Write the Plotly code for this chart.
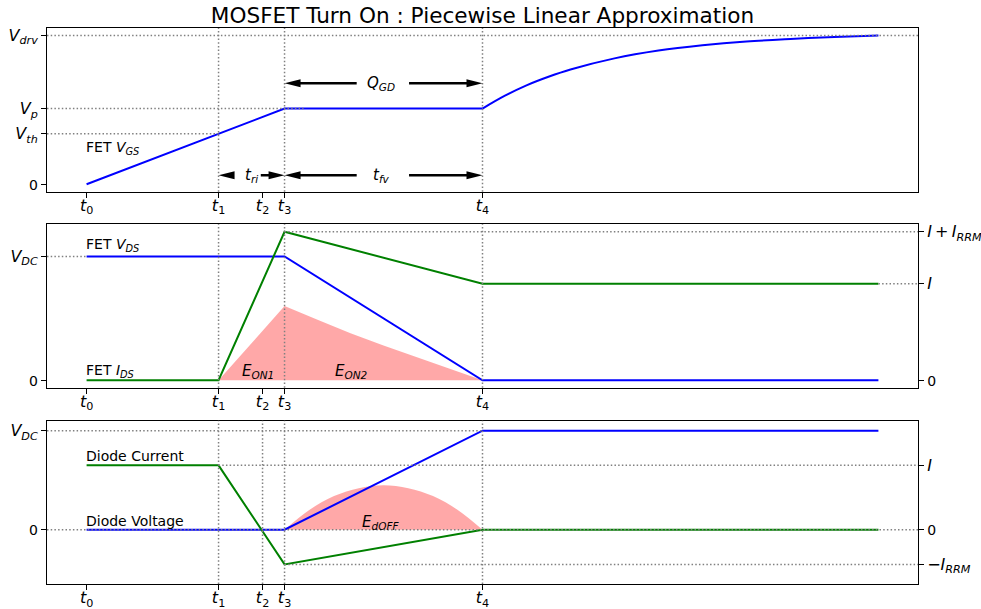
import plotly.graph_objects as go

# ---- time markers -------------------------------------------------------
t_marks = [0, 3, 4, 4.5, 9]
t_labels = ["<i>t</i><sub>0</sub>", "<i>t</i><sub>1</sub>", "<i>t</i><sub>2</sub>",
            "<i>t</i><sub>3</sub>", "<i>t</i><sub>4</sub>"]
T0, T1, T2, T3, T4, T_END = 0, 3, 4, 4.5, 9, 18

# ---- gate drive levels --------------------------------------------------
V_TH, V_P, V_DRV = 2.0, 3.0, 5.9
vgs_t = [0, 3, 4.5, 9]
vgs_v = [0, 2.0, 3.0, 3.0]
# charging toward the drive voltage after the Miller plateau
vgs_tail_t = [9.0, 9.5, 10.0, 10.5, 11.0, 12.0, 13.0, 14.0, 15.0, 16.0, 17.0, 18.0]
vgs_tail_v = [3.0, 3.50, 3.92, 4.26, 4.55, 4.99, 5.30, 5.51, 5.66, 5.76, 5.84, 5.9]

# ---- FET drain-source ---------------------------------------------------
V_DC, I_LOAD, I_PEAK = 5.0, 3.9, 6.0
vds_t = [0, 4.5, 9, 18]
vds_v = [5.0, 5.0, 0.0, 0.0]
ids_t = [0, 3, 4.5, 9, 18]
ids_v = [0.0, 0.0, 6.0, 3.9, 3.9]
eon_t = [3, 4.5, 5.25, 6.0, 6.75, 7.5, 8.25, 9.0]
eon_p = [0.0, 3.0, 2.44, 1.9, 1.4, 0.93, 0.46, 0.0]

# ---- diode --------------------------------------------------------------
VD_DC, ID_LOAD, ID_RRM = 1.0, 0.65, 0.35
dv_t = [0, 4.5, 9, 18]
dv_v = [0.0, 0.0, 1.0, 1.0]
di_t = [0, 3, 4.5, 9, 18]
di_v = [0.65, 0.65, -0.35, 0.0, 0.0]
edoff_t = [4.5, 5.0625, 5.625, 6.1875, 6.75, 7.3125, 7.875, 8.4375, 9.0]
edoff_p = [0.0, 0.2, 0.34, 0.42, 0.45, 0.42, 0.34, 0.2, 0.0]

BLUE = "#0000ff"
GREEN = "#008000"
PINK = "rgba(255,0,0,0.34)"
GRID = "#808080"
FONT = "DejaVu Sans"
X_RANGE = [-0.9, 18.9]
ZERO = '<span style="font-size:14px">0</span>'

fig = go.Figure()

# top panel: gate-source voltage
fig.add_trace(go.Scatter(x=vgs_t, y=vgs_v, mode="lines", line=dict(color=BLUE, width=2),
                         xaxis="x", yaxis="y", hoverinfo="skip"))
fig.add_trace(go.Scatter(x=vgs_tail_t, y=vgs_tail_v, mode="lines",
                         line=dict(color=BLUE, width=2, shape="spline"),
                         xaxis="x", yaxis="y", hoverinfo="skip"))

# middle panel: turn-on loss, VDS, IDS
fig.add_trace(go.Scatter(x=eon_t, y=eon_p, mode="lines", fill="tozeroy", fillcolor=PINK,
                         line=dict(width=0, color=PINK), xaxis="x2", yaxis="y2", hoverinfo="skip"))
fig.add_trace(go.Scatter(x=vds_t, y=vds_v, mode="lines", line=dict(color=BLUE, width=2),
                         xaxis="x2", yaxis="y2", hoverinfo="skip"))
fig.add_trace(go.Scatter(x=ids_t, y=ids_v, mode="lines", line=dict(color=GREEN, width=2),
                         xaxis="x2", yaxis="y2", hoverinfo="skip"))
fig.add_trace(go.Scatter(x=[None], y=[None], xaxis="x2", yaxis="y3", hoverinfo="skip"))

# bottom panel: diode recovery
fig.add_trace(go.Scatter(x=edoff_t, y=edoff_p, mode="lines", fill="tozeroy", fillcolor=PINK,
                         line=dict(width=0, color=PINK, shape="spline"),
                         xaxis="x3", yaxis="y4", hoverinfo="skip"))
fig.add_trace(go.Scatter(x=dv_t, y=dv_v, mode="lines", line=dict(color=BLUE, width=2),
                         xaxis="x3", yaxis="y4", hoverinfo="skip"))
fig.add_trace(go.Scatter(x=di_t, y=di_v, mode="lines", line=dict(color=GREEN, width=2),
                         xaxis="x3", yaxis="y4", hoverinfo="skip"))
fig.add_trace(go.Scatter(x=[None], y=[None], xaxis="x3", yaxis="y5", hoverinfo="skip"))

shapes = []
DOT = dict(color=GRID, width=1.5, dash="1.5px,2.2px")


def hdot(y, x0, x1, xref, yref):
    shapes.append(dict(type="line", xref=xref, yref=yref, x0=x0, x1=x1, y0=y, y1=y,
                       line=DOT, layer="above"))


def vdot(x, xref, yref):
    shapes.append(dict(type="line", xref=xref, yref=yref + " domain", x0=x, x1=x, y0=0, y1=1,
                       line=DOT, layer="above"))


# top panel guides
for tx in (T1, T3, T4):
    vdot(tx, "x", "y")
hdot(V_DRV, X_RANGE[0], X_RANGE[1], "x", "y")
hdot(V_P, X_RANGE[0], 4.93, "x", "y")
hdot(V_TH, X_RANGE[0], T1, "x", "y")

# middle panel guides
for tx in (T1, T3, T4):
    vdot(tx, "x2", "y2")
hdot(V_DC, X_RANGE[0], T0, "x2", "y2")
hdot(I_PEAK, T3, X_RANGE[1], "x2", "y2")
hdot(I_LOAD, T_END, X_RANGE[1], "x2", "y2")

# bottom panel guides
for tx in (T1, T2, T3, T4):
    vdot(tx, "x3", "y4")
hdot(VD_DC, X_RANGE[0], T4, "x3", "y4")
hdot(ID_LOAD, T1, X_RANGE[1], "x3", "y4")
hdot(0, X_RANGE[0], X_RANGE[1], "x3", "y4")
hdot(-ID_RRM, T3, X_RANGE[1], "x3", "y4")


def arrow(tail, tip, y):
    d = 1 if tail > tip else -1
    shapes.append(dict(type="line", xref="x", yref="y", x0=tail, x1=tip + d * 0.25, y0=y, y1=y,
                       line=dict(color="black", width=2.5), layer="above"))
    shapes.append(dict(type="path", xref="x", yref="y", xsizemode="pixel", ysizemode="pixel",
                       xanchor=tip, yanchor=y, path=f"M0,0 L{d * 16},4 L{d * 16},-4 Z",
                       fillcolor="black", line=dict(width=0), layer="above"))


Y_Q, Y_T = 4.0, 0.36
arrow(6.14, T3, Y_Q)
arrow(7.33, T4, Y_Q)
arrow(6.14, T3, Y_T)
arrow(7.33, T4, Y_T)
arrow(3.33, T1, Y_T)
arrow(3.96, T3, Y_T)

annotations = []


def label(x, y, text, xref, yref, xanchor="left", size=14):
    annotations.append(dict(x=x, y=y, xref=xref, yref=yref, text=text, showarrow=False,
                            xanchor=xanchor, yanchor="middle",
                            xshift=-3 if xanchor == "left" else 0,
                            font=dict(family=FONT, size=size, color="black")))


label(T0, 1.45, "FET <i>V</i><sub><i>GS</i></sub>", "x", "y")
label(6.7, Y_Q, "<i>Q</i><sub><i>GD</i></sub>", "x", "y", "center", 15)
label(6.7, Y_T, "<i>t</i><sub><i>fv</i></sub>", "x", "y", "center", 15)
label(3.76, Y_T, "<i>t</i><sub><i>ri</i></sub>", "x", "y", "center", 15)

label(T0, 5.46, "FET <i>V</i><sub><i>DS</i></sub>", "x2", "y2")
label(T0, 0.36, "FET <i>I</i><sub><i>DS</i></sub>", "x2", "y2")
label(3.89, 0.36, "<i>E</i><sub><i>ON1</i></sub>", "x2", "y2", "center", 15)
label(6.02, 0.36, "<i>E</i><sub><i>ON2</i></sub>", "x2", "y2", "center", 15)

label(T0, 0.74, "Diode Current", "x3", "y4")
label(T0, 0.088, "Diode Voltage", "x3", "y4")
label(6.67, 0.078, "<i>E</i><sub><i>dOFF</i></sub>", "x3", "y4", "center", 15)

TICKFONT = dict(family=FONT, size=16, color="black")


def xax(anchor):
    return dict(domain=[0, 1], anchor=anchor, range=X_RANGE, tickmode="array",
                tickvals=t_marks, ticktext=t_labels, ticks="outside", ticklen=5,
                tickwidth=1, tickcolor="black", showline=True, mirror=True,
                linecolor="black", linewidth=1, showgrid=False, zeroline=False,
                tickfont=TICKFONT, automargin=False, ticklabelstandoff=-6)


def yax(anchor, domain, rng, vals, texts, side="left", overlay=None):
    d = dict(anchor=anchor, range=rng, tickmode="array", tickvals=vals, ticktext=texts,
             ticks="outside", ticklen=5, tickwidth=1, tickcolor="black", showgrid=False,
             zeroline=False, tickfont=TICKFONT, side=side, automargin=False)
    if overlay:
        d.update(overlaying=overlay, showline=False)
    else:
        d.update(domain=domain, showline=True, mirror=True, linecolor="black", linewidth=1)
    return d


fig.update_layout(
    width=981, height=609,
    margin=dict(l=47, r=63, t=28, b=25),
    paper_bgcolor="white", plot_bgcolor="white",
    showlegend=False,
    font=dict(family=FONT, size=14, color="black"),
    title=dict(text="MOSFET Turn On : Piecewise Linear Approximation",
               x=0.5, xref="paper", xanchor="center", y=1 - 15.5 / 609, yref="container",
               yanchor="middle", font=dict(family=FONT, size=21.6, color="black")),
    xaxis=xax("y"),
    xaxis2=xax("y2"),
    xaxis3=xax("y4"),
    yaxis=yax("x", [0.7056, 1.0], [-0.295, 6.195], [0, V_TH, V_P, V_DRV],
              [ZERO, "<i>V</i><sub><i>th</i></sub>", "<i>V</i><sub><i>p</i></sub>",
               "<i>V</i><sub><i>drv</i></sub>"]),
    yaxis2=yax("x2", [0.3531, 0.6469], [-0.3, 6.3], [0, V_DC],
               [ZERO, "<i>V</i><sub><i>DC</i></sub>"]),
    yaxis3=yax("x2", None, [-0.3, 6.3], [0, I_LOAD, I_PEAK],
               [ZERO, "<i>I</i>",
                "<i>I</i>\u2009+\u2009<i>I</i><sub><i>RRM</i></sub>"],
               side="right", overlay="y2"),
    yaxis4=yax("x3", [0.0, 0.2937], [-0.548, 1.101], [0, VD_DC],
               [ZERO, "<i>V</i><sub><i>DC</i></sub>"]),
    yaxis5=yax("x3", None, [-0.548, 1.101], [-ID_RRM, 0, ID_LOAD],
               ["\u2212<i>I</i><sub><i>RRM</i></sub>", ZERO, "<i>I</i>"],
               side="right", overlay="y4"),
    shapes=shapes,
    annotations=annotations,
)

fig.write_html("out.html")
